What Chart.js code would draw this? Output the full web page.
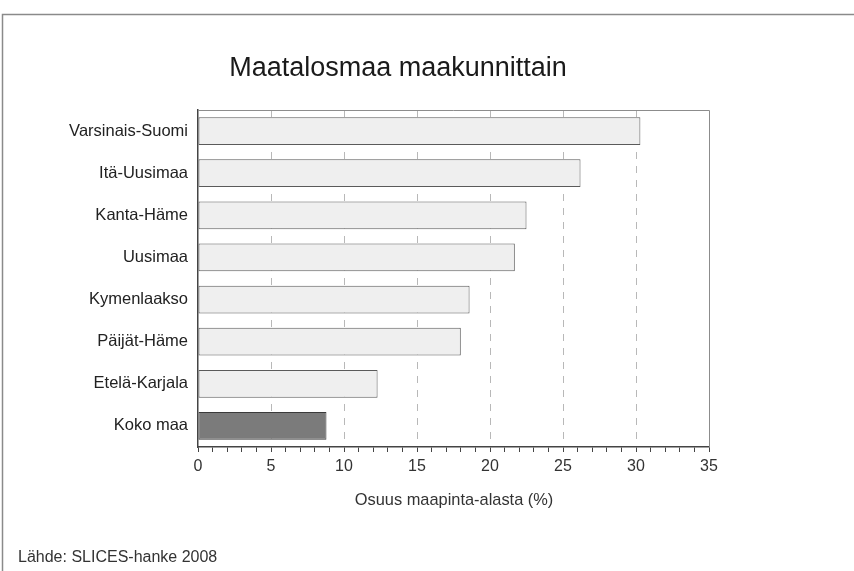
<!DOCTYPE html>
<html>
<head>
<meta charset="utf-8">
<script src="https://cdn.jsdelivr.net/npm/chart.js@4"></script>
<style>
  html, body { margin: 0; padding: 0; background: #fff; }
  #wrap { width: 854px; height: 571px; }
</style>
</head>
<body>
<div id="wrap"><canvas id="chart" width="854" height="571"></canvas></div>
<script>
// data
const regions = ['Varsinais-Suomi', 'Itä-Uusimaa', 'Kanta-Häme', 'Uusimaa', 'Kymenlaakso', 'Päijät-Häme', 'Etelä-Karjala', 'Koko maa'];
const shares = [30.3, 26.2, 22.5, 21.7, 18.6, 18.0, 12.3, 8.8];
const xTicks = [0, 5, 10, 15, 20, 25, 30, 35];

const chartTitle = 'Maatalosmaa maakunnittain';
const axisTitle = 'Osuus maapinta-alasta (%)';
const sourceText = 'Lähde: SLICES-hanke 2008';

const FONT = 'Arial, "Liberation Sans", sans-serif';

// frame, plot border and loose texts
const decor = {
  id: 'decor',
  beforeDraw(chart) {
    const ctx = chart.ctx;
    ctx.save();
    ctx.strokeStyle = '#8a8a8a';
    ctx.lineWidth = 1.5;
    ctx.beginPath();
    ctx.moveTo(2.5, 571);
    ctx.lineTo(2.5, 14.5);
    ctx.lineTo(854, 14.5);
    ctx.stroke();
    ctx.restore();
  },
  afterDraw(chart) {
    const ctx = chart.ctx;
    const a = chart.chartArea;
    ctx.save();
    ctx.strokeStyle = '#8c8c8c';
    ctx.lineWidth = 1;
    ctx.beginPath();
    ctx.moveTo(a.left, a.top + 0.5);
    ctx.lineTo(a.right + 0.5, a.top + 0.5);
    ctx.lineTo(a.right + 0.5, a.bottom);
    ctx.stroke();

    ctx.fillStyle = '#1a1a1a';
    ctx.textAlign = 'center';
    ctx.textBaseline = 'alphabetic';
    ctx.font = '27px ' + FONT;
    ctx.fillText(chartTitle, 398, 76);

    ctx.font = '16.4px ' + FONT;
    ctx.fillStyle = '#333';
    ctx.fillText(axisTitle, 454, 505);

    ctx.textAlign = 'left';
    ctx.font = '16px ' + FONT;
    ctx.fillText(sourceText, 18, 562);
    ctx.restore();
  }
};

new Chart(document.getElementById('chart'), {
  type: 'bar',
  data: {
    labels: regions,
    datasets: [{
      data: shares,
      backgroundColor: regions.map(r => r === 'Koko maa' ? '#7b7b7b' : '#efefef'),
      borderColor: regions.map(r => r === 'Koko maa' ? '#3a3a3a' : '#5a5a5a'),
      borderWidth: 1,
      borderSkipped: false,
      barPercentage: 0.66,
      categoryPercentage: 1
    }]
  },
  options: {
    indexAxis: 'y',
    responsive: false,
    animation: false,
    layout: { padding: { top: 110, right: 145, left: 0, bottom: 0 } },
    plugins: {
      legend: { display: false },
      tooltip: { enabled: false }
    },
    scales: {
      x: {
        min: 0,
        max: 35,
        afterBuildTicks(scale) {
          const t = [];
          for (let v = 0; v <= 35; v++) t.push({ value: v });
          scale.ticks = t;
        },
        afterFit(scale) { scale.height = 571 - 110 - 337; },
        ticks: {
          autoSkip: false,
          maxRotation: 0,
          padding: 5,
          color: '#333',
          font: { family: FONT, size: 16 },
          callback: v => xTicks.includes(v) ? String(v) : ''
        },
        grid: {
          drawOnChartArea: true,
          color: c => (c.tick && c.tick.value % 5 === 0 && c.tick.value > 0 && c.tick.value < 35) ? '#b8b8b8' : 'rgba(0,0,0,0)',
          tickColor: '#444',
          tickLength: 5,
          lineWidth: 1
        },
        border: { color: '#444', width: 1.5, dash: [7, 7] }
      },
      y: {
        afterFit(scale) { scale.width = 198; },
        ticks: {
          color: '#222',
          padding: 10,
          font: { family: FONT, size: 16.5 }
        },
        grid: { display: false, drawTicks: false },
        border: { color: '#444', width: 1.5 }
      }
    }
  },
  plugins: [decor]
});
</script>
</body>
</html>
